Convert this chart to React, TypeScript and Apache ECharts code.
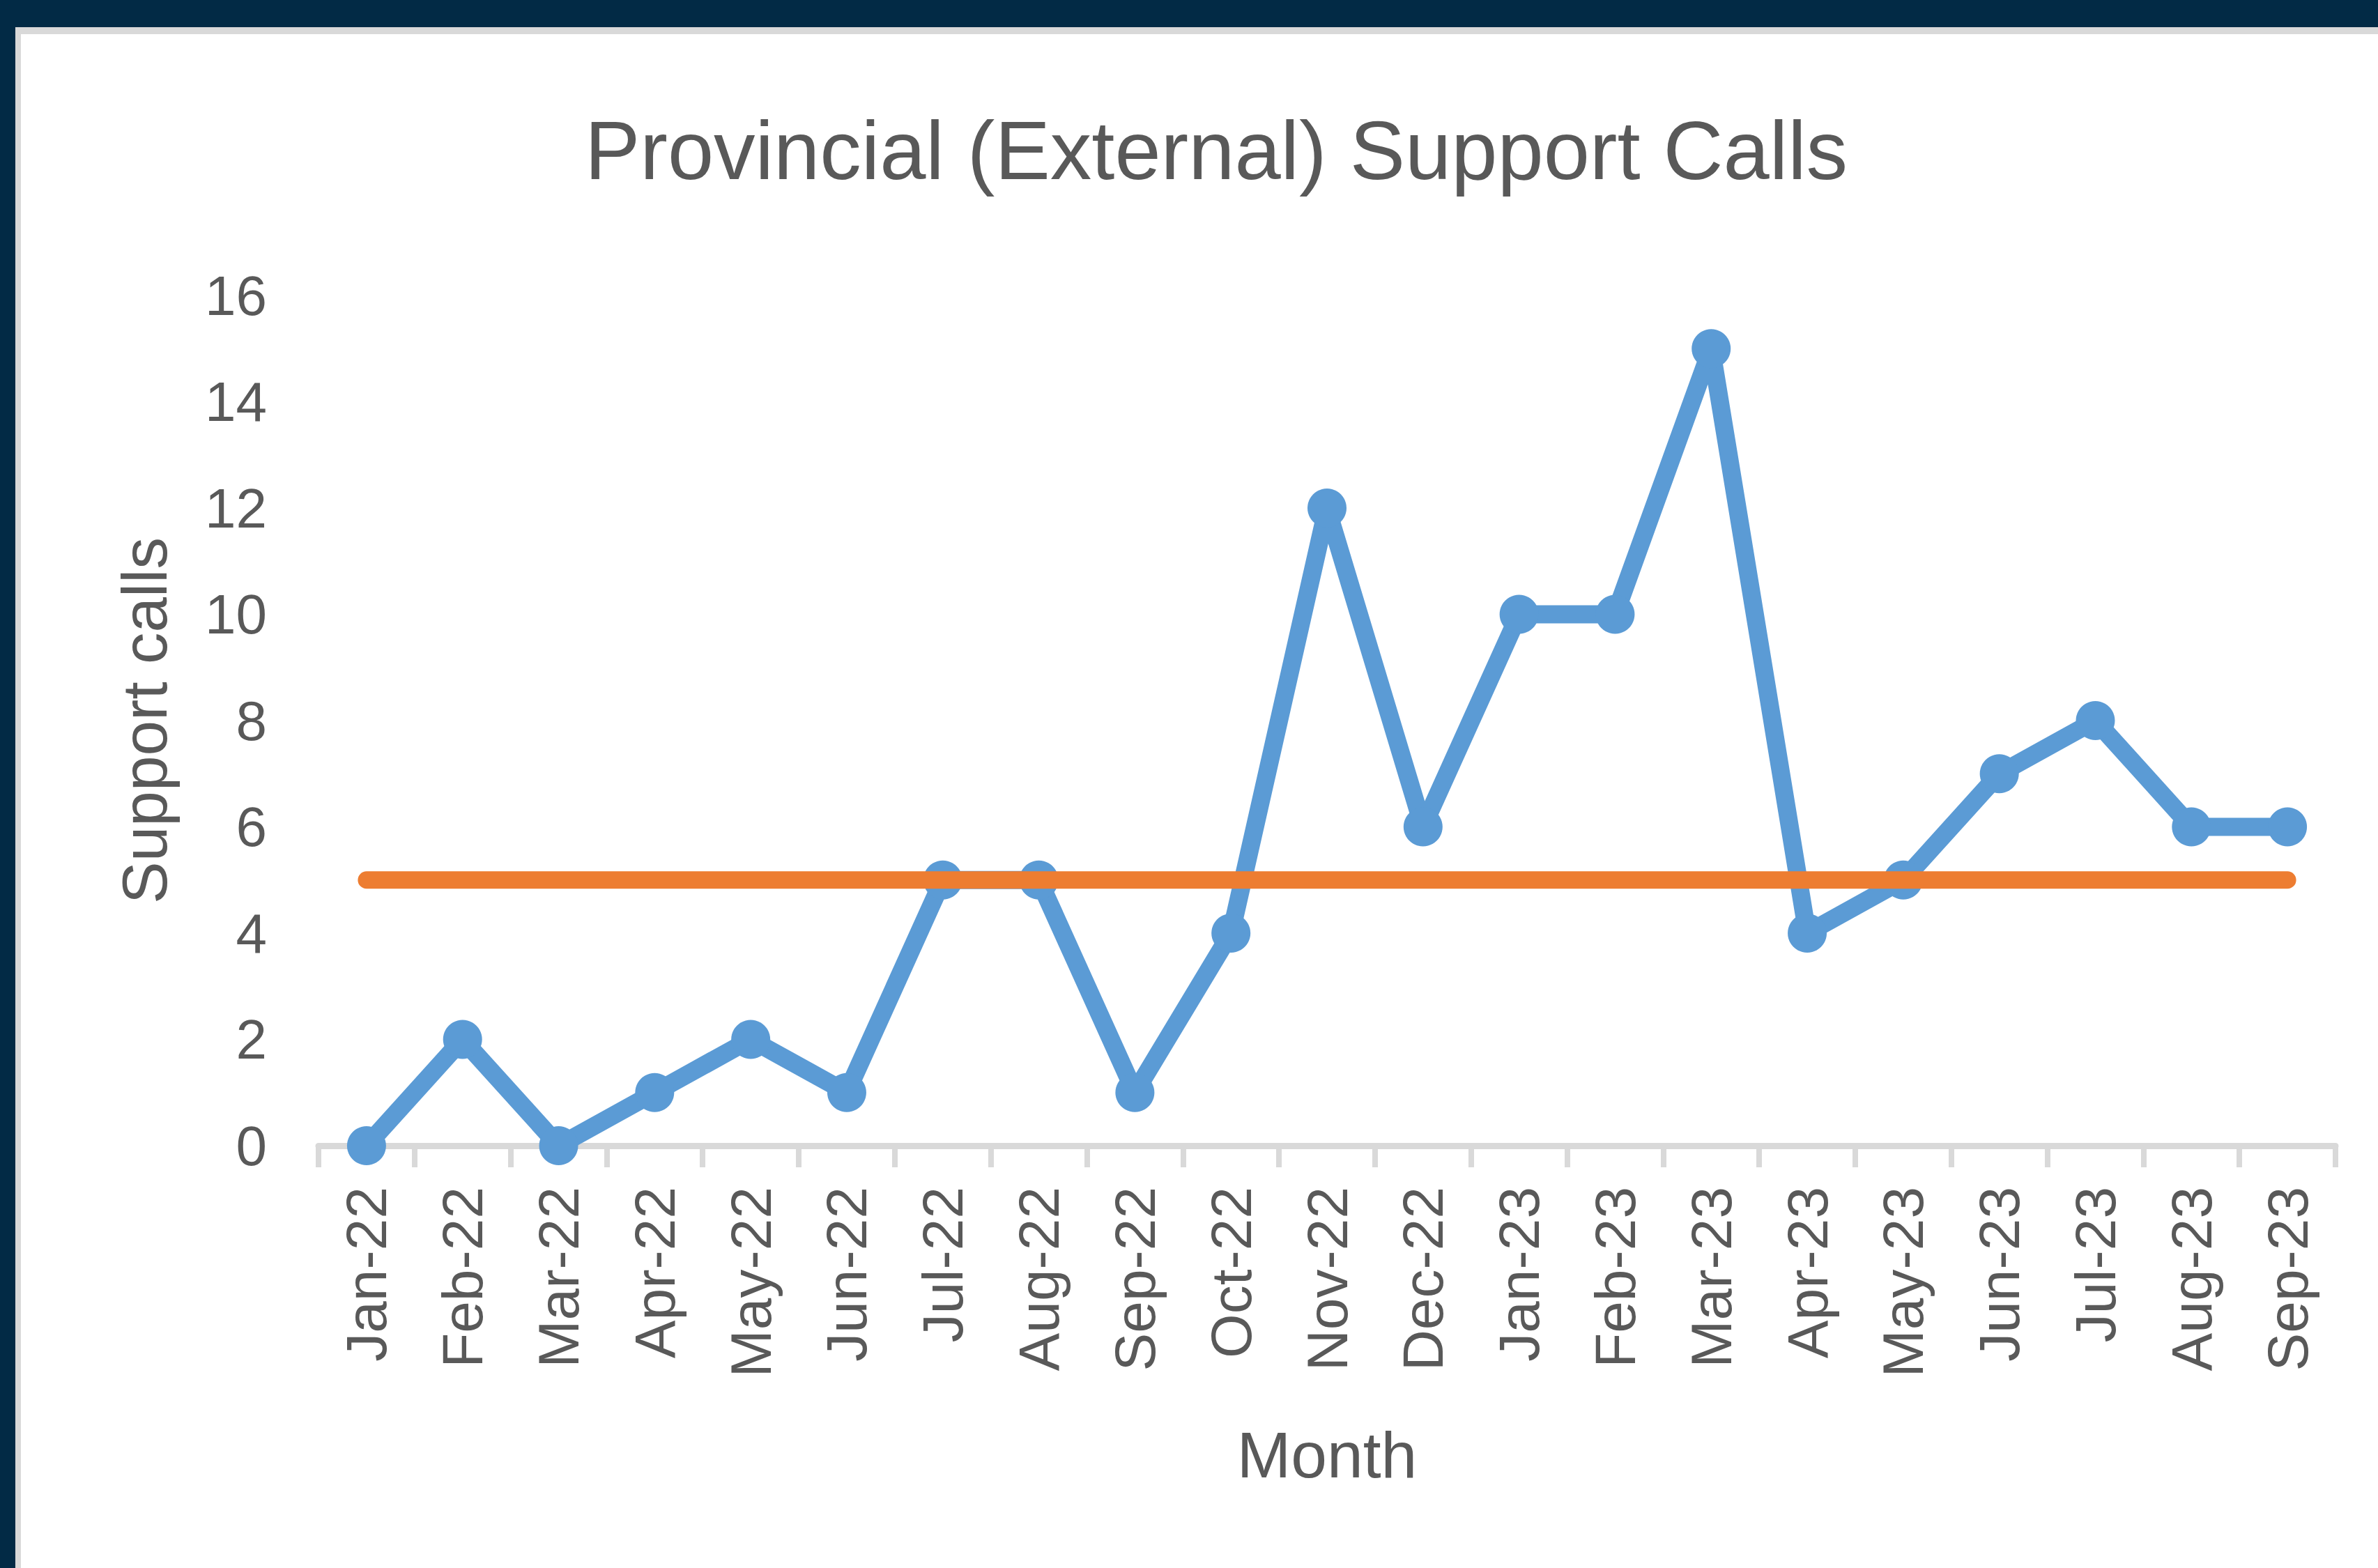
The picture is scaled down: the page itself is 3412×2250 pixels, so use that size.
import React, { useEffect, useRef } from "react";
import * as echarts from "echarts";

const months = [
  "Jan-22", "Feb-22", "Mar-22", "Apr-22", "May-22", "Jun-22", "Jul-22",
  "Aug-22", "Sep-22", "Oct-22", "Nov-22", "Dec-22", "Jan-23", "Feb-23",
  "Mar-23", "Apr-23", "May-23", "Jun-23", "Jul-23", "Aug-23", "Sep-23",
];
const supportCalls = [0, 2, 0, 1, 2, 1, 5, 5, 1, 4, 12, 6, 10, 10, 15, 4, 5, 7, 8, 6, 6];
const target = [5, 5, 5, 5, 5, 5, 5, 5, 5, 5, 5, 5, 5, 5, 5, 5, 5, 5, 5, 5, 5];

const W = 3412;
const H = 2250;
const TEXT = "#595959";
const FONT = "'Liberation Sans', Arial, sans-serif";

export default function App() {
  const ref = useRef<HTMLDivElement>(null);
  useEffect(() => {
    if (!ref.current) return;
    const chart = echarts.init(ref.current, undefined, { renderer: "svg" });
    chart.setOption({
      animation: false,
      backgroundColor: "#022A45",
      textStyle: { fontFamily: FONT },
      graphic: [
        { type: "rect", z: -100, silent: true, shape: { x: 22, y: 39, width: W - 22, height: H - 39 }, style: { fill: "#D9D9D9" } },
        { type: "rect", z: -99, silent: true, shape: { x: 30, y: 49, width: W - 30, height: H - 49 }, style: { fill: "#FFFFFF" } },
        {
          type: "text", z: 10, x: 1745, y: 215,
          style: { text: "Provincial (External) Support Calls", fill: TEXT, font: `119px ${FONT}`, align: "center", verticalAlign: "middle" },
        },
      ],
      grid: { left: 457, right: 61, top: 424, bottom: 606, containLabel: false },
      xAxis: {
        type: "category",
        data: months,
        boundaryGap: true,
        name: "Month",
        nameLocation: "middle",
        nameGap: 397,
        nameTextStyle: { color: TEXT, fontSize: 93, fontFamily: FONT },
        axisLine: { show: true, lineStyle: { color: "#D9D9D9", width: 9 } },
        axisTick: { show: true, length: 31, lineStyle: { color: "#D9D9D9", width: 8 } },
        axisLabel: { rotate: 90, margin: 59, color: TEXT, fontSize: 82, fontFamily: FONT, interval: 0 },
        splitLine: { show: false },
      },
      yAxis: {
        type: "value",
        min: 0,
        max: 16,
        interval: 2,
        name: "Support calls",
        nameLocation: "middle",
        nameGap: 204,
        nameTextStyle: { color: TEXT, fontSize: 91, fontFamily: FONT },
        axisLine: { show: false },
        axisTick: { show: false },
        splitLine: { show: false },
        axisLabel: { margin: 74, color: TEXT, fontSize: 80, fontFamily: FONT },
      },
      series: [
        {
          name: "Support calls",
          type: "line",
          data: supportCalls,
          symbol: "circle",
          symbolSize: 56,
          itemStyle: { color: "#5B9BD5", borderWidth: 0 },
          lineStyle: { color: "#5B9BD5", width: 26, join: "round" },
          z: 2,
        },
        {
          name: "Target",
          type: "line",
          data: target,
          showSymbol: false,
          symbol: "none",
          itemStyle: { color: "#ED7D31" },
          lineStyle: { color: "#ED7D31", width: 25, cap: "round" },
          z: 3,
        },
      ],
    });
    return () => chart.dispose();
  }, []);
  return <div ref={ref} style={{ position: "absolute", left: 0, top: 0, width: W, height: H }} />;
}
